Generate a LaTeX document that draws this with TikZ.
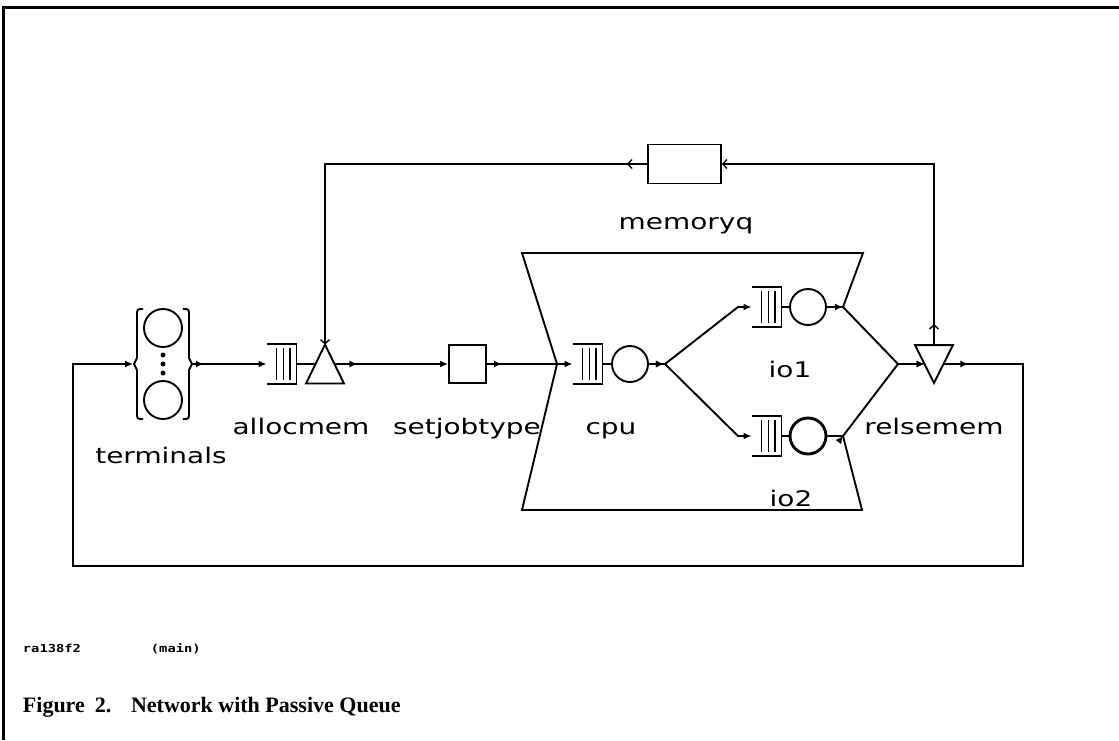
\documentclass[tikz,border=0pt]{standalone}
\usepackage{fontspec}
\setmainfont{Liberation Serif}
\newfontfamily\plotfont[FakeStretch=1.3]{DejaVu Sans}
\newfontfamily\dotfont[FakeStretch=1.25]{DejaVu Sans Mono}
\usetikzlibrary{arrows.meta,calc,decorations.markings}

\begin{document}
\begin{tikzpicture}[x=1pt, y=-1pt, line width=1.9pt, >={Latex[length=8pt,width=7pt]},
	flow/.style={->, postaction={decorate}, decoration={markings, mark=at position #1 with {\arrow{>}}}},
	flow/.default=15pt,
	signal/.style={line width=1.4pt, -{Straight Barb[length=4pt,width=9pt]}, postaction={decorate},
		decoration={markings, mark=at position #1 with {\arrow{Straight Barb[length=4pt,width=9pt]}}}},
	signal/.default=20pt,
	queue/.style={minimum width=28pt, minimum height=38pt, inner sep=0pt},
	server/.style={circle, draw, minimum size=36pt, inner sep=0pt},
	box/.style={draw, inner sep=0pt},
	tri/.style={minimum width=36pt, minimum height=37pt, inner sep=0pt},
	lbl/.style={font=\plotfont\fontsize{21.5}{25}\selectfont, inner sep=0pt, anchor=base}]
	\useasboundingbox (0,0) rectangle (1119,740);
	\draw[line width=3pt] (1119,7) -- (3,7) -- (3,740);

	% stations
	\node[minimum width=58pt, minimum height=110pt, inner sep=0pt] (term) at (163,364) {};
	\node[queue] (allocq) at (281.5,364) {};
	\node[tri] (alloc) at (325,364) {};
	\node[box, minimum width=37pt, minimum height=38pt] (setjob) at (467.5,364) {};
	\node[queue] (cpuq) at (587.5,364) {};
	\node[server] (cpu) at (630,364) {};
	\node[queue] (io1q) at (766.5,307) {};
	\node[server] (io1) at (808,307) {};
	\node[queue] (io2q) at (766.5,436) {};
	\node[server, line width=2.9pt] (io2) at (808,436) {};
	\node[tri, minimum height=36pt] (rel) at (934,364) {};
	\node[box, minimum width=73pt, minimum height=39pt] (memq) at (684.5,164) {};

	\coordinate (alloc-in) at ($(alloc.south west)!0.5!(alloc.north)$);
	\coordinate (alloc-out) at ($(alloc.south east)!0.5!(alloc.north)$);
	\coordinate (rel-in) at ($(rel.north west)!0.5!(rel.south)$);
	\coordinate (rel-out) at ($(rel.north east)!0.5!(rel.south)$);
	\coordinate (cpux) at (557,364);
	\coordinate (fork) at (665,364);
	\coordinate (io1a) at (738,307);
	\coordinate (io2a) at (738,436);
	\coordinate (io1x) at (843,307);
	\coordinate (io2x) at (843,436);
	\coordinate (merge) at (898,364);
	\coordinate (loopse) at (1023,566);
	\coordinate (loopsw) at (73,566);

	% infinite server
	\draw (163,328) circle (19) (163,400) circle (19);
	\fill (163,355) circle (2.5) (163,364) circle (2.5) (163,373) circle (2.5);
	\draw (143,309) .. controls (137,309) .. (137,316) -- (137,358) -- (134,364) -- (137,370) -- (137,412) .. controls (137,419) .. (143,419);
	\draw (183,309) .. controls (189,309) .. (189,316) -- (189,358) -- (192,364) -- (189,370) -- (189,412) .. controls (189,419) .. (183,419);

	\foreach \q in {allocq,cpuq,io1q,io2q}{
		\draw (\q.north west) -- (\q.north east) -- (\q.south east) -- (\q.south west);
		\foreach \f in {0.33,0.56,0.79}
			\draw[line width=1.5pt] ($(\q.north west)!\f!(\q.north east)+(0,4)$) -- ($(\q.south west)!\f!(\q.south east)+(0,-4)$);
	}
	\draw (alloc.south west) -- (alloc.north) -- (alloc.south east) -- cycle;
	\draw (rel.north west) -- (rel.north east) -- (rel.south) -- cycle;
	\draw (io1x) -- (863,253) -- (522,253) -- (cpux) -- (522,510) -- (862,510) -- (io2x);

	% routing
	\draw[flow=11pt] (term.east) -- (allocq.west);
	\draw (allocq.east) -- (alloc-in);
	\draw[flow=23pt] (alloc-out) -- (setjob.west);
	\draw[flow] (setjob.east) -- (cpuq.west);
	\draw (cpuq.east) -- (cpu.west);
	\draw[flow] (cpu.east) -- (fork) -- (io1a) -- (io1q.west);
	\draw[flow] (cpu.east) -- (fork) -- (io2a) -- (io2q.west);
	\draw (io1q.east) -- (io1.west);
	\draw (io2q.east) -- (io2.west);
	\draw[flow=16pt] (io1.east) -- (io1x) -- (merge) -- (rel-in);
	\draw[flow=16pt] (io2.east) -- (io2x) -- (merge) -- (rel-in);
	\draw[flow=25pt] (rel-out) -| (loopse) -- (loopsw) |- (term.west);
	\draw[signal=21pt] (rel.north) |- (memq.east);
	\draw[signal] (memq.west) -| (alloc.north);

	% labels
	\node[lbl] (terml) at (161,463) {terminals};
	\node[lbl] (allocl) at (301,434) {allocmem};
	\node[lbl] (setjobl) at (467,434) {setjobtype};
	\node[lbl] (cpul) at (611,434) {cpu};
	\node[lbl] (io1l) at (790,377) {io1};
	\node[lbl] (io2l) at (791,506) {io2};
	\node[lbl] (rell) at (934,434) {relsemem};
	\node[lbl] (memql) at (686,229) {memoryq};

	\node[anchor=base west, inner sep=0pt, font=\dotfont\bfseries\fontsize{11}{13}\selectfont] (fname) at (22,652) {ra138f2};
	\node[anchor=base west, inner sep=0pt, font=\dotfont\bfseries\fontsize{11}{13}\selectfont] (fmode) at (150,652) {(main)};
	\node[anchor=base west, inner sep=0pt, font=\bfseries\fontsize{22}{26}\selectfont] (caption) at (22,712) {Figure\hspace{0.45em}2.\hspace{0.9em}Network with Passive Queue};
\end{tikzpicture}
\end{document}
